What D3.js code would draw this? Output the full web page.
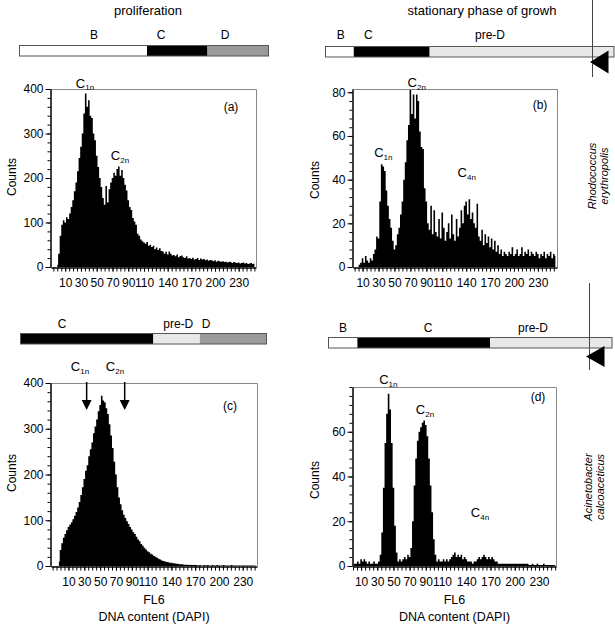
<!DOCTYPE html>
<html><head><meta charset="utf-8">
<script src="https://cdn.jsdelivr.net/npm/d3@7"></script>
<style>
body{margin:0;background:#fff}
svg{display:block}
text{font-family:"Liberation Sans",Arial,Helvetica,sans-serif;fill:#000}
</style>
</head><body>
<svg id="chart" width="615" height="624"></svg>
<script>
// ---------------- DATA ----------------
const xTickValues = [10, 30, 50, 70, 90, 110, 140, 170, 200, 230];
const yTicksLarge = [0, 100, 200, 300, 400];
const yTicksB = [0, 20, 40, 60, 80];
const yTicksD = [0, 20, 40, 60];

// histogram counts, bins of 2 channel units
const startA = 0, startB = 0, startC = -2, startD = 0, binWidth = 2;
const countsA = [5,30,70,95,105,100,112,108,120,135,150,170,190,215,245,270,300,345,390,360,
  375,340,335,300,285,250,225,200,180,155,140,182,145,175,190,200,212,205,220,226,
  205,218,200,185,172,150,135,128,110,102,95,75,70,62,58,55,52,56,48,50,
  45,48,40,44,38,42,36,35,30,34,28,35,30,26,27,24,28,22,25,26,
  22,20,24,19,20,18,21,17,18,20,16,19,17,18,15,17,14,16,15,13,
  15,12,14,13,12,13,11,12,10,12,11,9,11,10,9,10,8,9,10,8,
  9,7,8,9,7,8];
const countsB = [0,0,0,1,2,4,2,5,3,2,4,3,6,8,14,13,30,47,46,44,
  35,28,22,18,12,8,10,15,18,24,30,40,48,58,65,81,70,79,68,79,
  76,62,55,54,36,30,20,17,28,15,26,16,14,22,13,25,18,12,16,20,
  13,24,15,12,22,14,18,26,20,28,30,24,31,22,25,20,18,29,14,12,
  17,10,15,11,14,9,13,8,12,7,10,6,8,5,7,6,5,7,6,9,
  5,6,8,5,6,9,5,7,6,8,5,7,6,5,7,6,4,6,5,7,
  4,6,5,7,4,6,5];
const countsC = [10,35,50,62,70,78,85,90,95,102,110,118,128,140,155,172,190,208,220,240,
  255,270,290,305,320,338,352,372,362,358,345,332,310,285,258,228,200,172,150,135,
  122,112,105,98,92,85,80,74,70,64,58,54,48,44,40,36,32,30,27,25,
  22,20,18,16,14,12,11,10,9,8,7,7,6,6,5,5,4,4,4,3,
  3,3,2,3,2,2,2,2,1,2,1,1,2,1,2,1,1,2,1,1,
  2,1,1,1,2,1,1,1,1,2,1,1,1,1,1,1,1,1,1,1,
  1,1,1,1,1];
const countsD = [0,1,1,2,1,3,2,3,2,1,2,1,1,2,1,1,2,5,15,35,
  55,68,77,70,55,35,18,6,2,3,2,3,4,3,5,4,8,20,36,48,
  56,60,62,64,65,63,58,48,36,24,12,5,2,3,2,2,3,2,3,2,
  3,4,5,6,4,5,4,5,3,4,3,2,2,2,1,2,2,3,4,3,
  4,5,4,3,4,3,4,3,2,2,1,1,1,1,1,1,1,1,1,1,
  1,1,1,1,1,1,1,1,1,0.5,0.5,1,0.5,0.5,1,0.5,0.5,0.5,1,0.5,
  0.5,0.5,0.5,0.5,0.5,0.5];

// phase bars: names and share of the bar length
const phasesA = ["B", "C", "D"],      shareA = [0.512, 0.243, 0.245];
const phasesB = ["B", "C", "pre-D"],  shareB = [0.098, 0.263, 0.639];
const phasesC = ["C", "pre-D", "D"],  shareC = [0.540, 0.189, 0.271];
const phasesD = ["B", "C", "pre-D"],  shareD = [0.102, 0.468, 0.430];

// annotation marker positions (channel units) in panel (c)
const arrowsC = [33, 81];

// ---------------- DRAWING ----------------
const svg = d3.select("#chart");
const phaseFill = {"B": "#ffffff", "C": "#000000", "D": "#9a9a9a", "pre-D": "#e8e8e8"};

function drawBar(phases, shares, x0, x1, y0, h, labelXs, labelY) {
  const sc = d3.scaleLinear().domain([0, 1]).range([x0, x1]);
  const cum = d3.cumsum(shares);
  const g = svg.append("g");
  g.selectAll("rect").data(phases).join("rect")
    .attr("x", (d, i) => sc(i ? cum[i - 1] : 0))
    .attr("width", (d, i) => sc(cum[i]) - sc(i ? cum[i - 1] : 0))
    .attr("y", y0).attr("height", h)
    .attr("fill", d => phaseFill[d]);
  g.append("rect").attr("x", x0).attr("y", y0).attr("width", x1 - x0).attr("height", h)
    .attr("fill", "none").attr("stroke", "#555").attr("stroke-width", 1);
  g.selectAll("text").data(phases).join("text")
    .attr("x", (d, i) => labelXs[i]).attr("y", labelY)
    .attr("text-anchor", "middle").attr("dominant-baseline", "central")
    .attr("font-size", 12).text(d => d);
}

drawBar(phasesA, shareA, 19.5, 268.5, 45.5, 10.5, [94, 161, 225], 35);
drawBar(phasesB, shareB, 325.5, 614, 46.5, 10.5, [340.7, 368.3, 490], 35);
drawBar(phasesC, shareC, 20.5, 266.5, 333.5, 10.5, [62, 178.3, 206], 324);
drawBar(phasesD, shareD, 328.5, 612, 337.5, 10.5, [343, 428, 533], 328);

// titles
svg.append("text").attr("x", 148).attr("y", 15).attr("text-anchor", "middle").attr("font-size", 13).text("proliferation");
svg.append("text").attr("x", 482).attr("y", 15).attr("text-anchor", "middle").attr("font-size", 13).text("stationary phase of growh");

// right side markers
function marker(x, yTop, yBot, tipX, tipY, baseX, half) {
  svg.append("line").attr("x1", x).attr("x2", x).attr("y1", yTop).attr("y2", yBot)
    .attr("stroke", "#444").attr("stroke-width", 1);
  svg.append("path").attr("d", `M${tipX},${tipY}L${baseX},${tipY - half}L${baseX},${tipY + half}Z`).attr("fill", "#000");
}
marker(592.5, 0, 77, 590, 62, 608.5, 11.5);
marker(589.5, 283, 370, 586, 356.5, 604.5, 10.5);

// species labels
function species(lines, xs, cy) {
  lines.forEach((t, i) => {
    svg.append("text").attr("transform", `translate(${xs[i]},${cy}) rotate(-90)`)
      .attr("text-anchor", "middle").attr("dominant-baseline", "central")
      .attr("font-size", 11).attr("font-style", "italic").text(t);
  });
}
species(["Rhodococcus", "erythropolis"], [592, 604], 176);
species(["Acinetobacter", "calcoaceticus"], [588, 600], 487);

const panels = [
  {id: "a", counts: countsA, start: startA, xDomain: [-8, 252], box: {l: 51, t: 89, r: 256, b: 267}, yMax: 400, yMajor: yTicksLarge, yMinor: 20,
   labels: [["1n", 85, 87.5], ["2n", 120, 160]], letter: [231, 107], countsPos: [12, 177]},
  {id: "b", counts: countsB, start: startB, xDomain: [-2, 254], box: {l: 353, t: 89, r: 557, b: 267}, yMax: 81.5, yMajor: yTicksB, yMinor: 4,
   labels: [["2n", 416.7, 87], ["1n", 383.3, 157], ["4n", 466.7, 177]], letter: [540, 105], countsPos: [315, 180]},
  {id: "c", counts: countsC, start: startC, xDomain: [-12, 248], box: {l: 51, t: 383, r: 257, b: 566}, yMax: 400, yMajor: yTicksLarge, yMinor: 20,
   labels: [["1n", 80, 371], ["2n", 115, 371]], letter: [230, 406], countsPos: [12, 473], xTitle: true},
  {id: "d", counts: countsD, start: startD, xDomain: [0, 251], box: {l: 353, t: 387, r: 556, b: 566}, yMax: 80, yMajor: yTicksD, yMinor: 4,
   labels: [["1n", 388.3, 384], ["2n", 425, 414], ["4n", 480, 517]], letter: [538, 397], countsPos: [315, 480], xTitle: true}
];

panels.forEach(p => {
  const b = p.box;
  const x = d3.scaleLinear().domain(p.xDomain).range([b.l, b.r]);
  const y = d3.scaleLinear().domain([0, p.yMax]).range([b.b, b.t]);
  const g = svg.append("g");

  g.append("clipPath").attr("id", "clip" + p.id).append("rect")
    .attr("x", b.l).attr("y", b.t).attr("width", b.r - b.l).attr("height", b.b - b.t);

  const area = d3.area()
    .x((d, i) => x(p.start + i * binWidth))
    .y0(y(0)).y1(d => y(d))
    .curve(d3.curveStep);
  g.append("path").datum(p.counts).attr("d", area).attr("fill", "#000")
    .attr("clip-path", `url(#clip${p.id})`);

  // frame (top, right)
  g.append("path").attr("d", `M${b.l},${b.t + 0.5}H${b.r + 0.5}V${b.b}`)
    .attr("fill", "none").attr("stroke", "#888").attr("stroke-width", 1);

  // x axis
  const xMinor = d3.range(-10, 251, 5).filter(v => v >= p.xDomain[0] && v <= p.xDomain[1]);
  const gxm = g.append("g").attr("transform", `translate(0,${b.b + 0.5})`)
    .call(d3.axisBottom(x).tickValues(xMinor).tickSize(4).tickSizeOuter(0).tickFormat(""));
  const gx = g.append("g").attr("transform", `translate(0,${b.b + 0.5})`)
    .call(d3.axisBottom(x).tickValues(xTickValues).tickSize(4).tickPadding(7).tickSizeOuter(0));
  [gxm, gx].forEach(a => { a.select(".domain").attr("stroke", "#000"); a.selectAll("line").attr("stroke", "#000"); });
  gx.selectAll("text").attr("font-size", 12).attr("font-family", "Liberation Sans, Arial, sans-serif");

  // y axis
  const yMinorVals = d3.range(0, p.yMax + 0.01, p.yMinor);
  const gym = g.append("g").attr("transform", `translate(${b.l - 0.5},0)`)
    .call(d3.axisLeft(y).tickValues(yMinorVals).tickSize(3).tickSizeOuter(0).tickFormat(""));
  const gy = g.append("g").attr("transform", `translate(${b.l - 0.5},0)`)
    .call(d3.axisLeft(y).tickValues(p.yMajor).tickSize(5).tickPadding(2).tickSizeOuter(0));
  [gym, gy].forEach(a => { a.select(".domain").attr("stroke", "#000"); a.selectAll("line").attr("stroke", "#000"); });
  gy.selectAll("text").attr("font-size", 12).attr("font-family", "Liberation Sans, Arial, sans-serif");

  // Counts
  g.append("text").attr("transform", `translate(${p.countsPos[0]},${p.countsPos[1]}) rotate(-90)`)
    .attr("text-anchor", "middle").attr("dominant-baseline", "central").attr("font-size", 12).text("Counts");

  // panel letter
  g.append("text").attr("x", p.letter[0]).attr("y", p.letter[1]).attr("text-anchor", "middle")
    .attr("dominant-baseline", "central").attr("font-size", 12).text(`(${p.id})`);

  // C labels
  p.labels.forEach(([sub, lx, ly]) => {
    const t = g.append("text").attr("x", lx).attr("y", ly).attr("text-anchor", "middle").attr("font-size", 13);
    t.append("tspan").text("C");
    t.append("tspan").attr("font-size", 8).attr("dy", 2.5).text(sub);
  });

  if (p.id === "c") {
    arrowsC.forEach(v => {
      const ax = x(v);
      g.append("line").attr("x1", ax).attr("x2", ax).attr("y1", 382).attr("y2", 401)
        .attr("stroke", "#000").attr("stroke-width", 1.5);
      g.append("path").attr("d", `M${ax - 5},${400}L${ax + 5},${400}L${ax},${410}Z`).attr("fill", "#000");
    });
  }

  if (p.xTitle) {
    const cx = (b.l + b.r) / 2;
    g.append("text").attr("x", cx).attr("y", 600).attr("text-anchor", "middle")
      .attr("dominant-baseline", "central").attr("font-size", 12.5).text("FL6");
    g.append("text").attr("x", cx).attr("y", 617).attr("text-anchor", "middle")
      .attr("dominant-baseline", "central").attr("font-size", 12.5).text("DNA content (DAPI)");
  }
});
</script>
</body></html>
